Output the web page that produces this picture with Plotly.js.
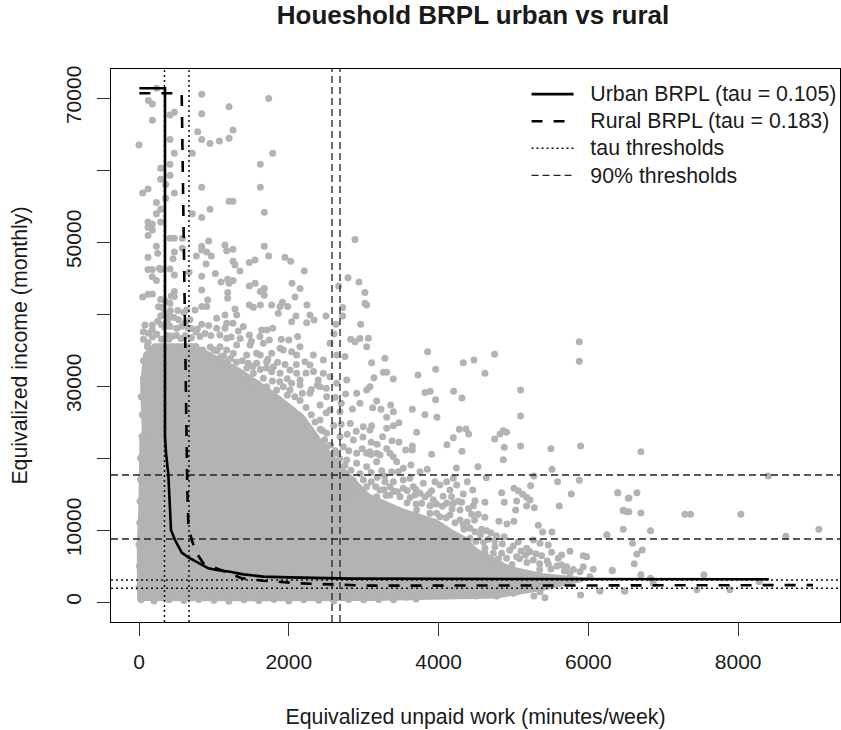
<!DOCTYPE html>
<html><head><meta charset="utf-8">
<script src="https://cdn.plot.ly/plotly-3.0.1.min.js"></script>
<style>html,body{margin:0;padding:0;background:#fff}#c{width:841px;height:730px}</style>
</head><body><div id="c"></div>
<script>
// Household points: [unpaid work, income]
var scatterPoints = [
[236,71350],[125,69640],[178,69180],[178,66910],[414,67650],[472,68020],[837,70520],[837,67830],[1202,68800],[1731,69920],[783,65330],[1255,65560],[1202,64410],[1073,64040],[948,63670],[837,64220],[414,64220],[0,63480],[472,62320],[712,62320],[1785,62320],[1620,60800],[414,60800],[289,60240],[414,59270],[289,58710],[356,57970],[120,57370],[49,56810],[472,56810],[837,57600],[1620,57600],[356,56070],[232,55470],[1202,55660],[1255,55660],[289,54550],[232,53940],[948,54550],[712,53940],[837,53390],[1673,54130],[289,52790],[120,52790],[178,52510],[120,52050],[178,51680],[120,50890],[414,50520],[472,50520],[579,50520],[930,50150],[2884,50330],[1148,49590],[1170,48800],[1255,48990],[1673,49400],[232,49400],[249,48430],[120,47880],[472,48620],[454,47690],[579,49130],[837,49400],[837,48900],[903,48620],[966,48060],[766,48060],[1731,48060],[1949,47880],[2025,47320],[1255,47320],[1282,46810],[1473,47140],[1549,47500],[895,46950],[1349,45980],[2207,45980],[120,46170],[178,46170],[272,46350],[414,46260],[289,46170],[472,45430],[668,45800],[178,45190],[232,44640],[837,45240],[1019,45610],[1095,44450],[1184,44820],[1255,44640],[1202,44270],[2790,45050],[2937,44450],[2666,43900],[3017,42970],[1473,43900],[1549,44270],[2043,44270],[2150,43530],[1620,43110],[1673,43530],[1673,42600],[2083,42370],[1184,42970],[1184,42180],[837,43340],[49,42370],[120,42740],[178,42780],[289,42000],[472,43110],[472,42420],[917,41950],[837,41030],[903,41030],[748,40560],[636,40560],[303,40890],[414,41490],[1473,41260],[1527,40930],[1620,41260],[1771,41260],[1914,41630],[1882,41030],[1985,41030],[2243,41260],[1860,40100],[2719,40890],[2719,39730],[3017,41490],[3040,41260],[1282,40700],[1304,39870],[1148,39870],[1037,39400],[2497,39730],[2283,39870],[2337,39180],[2239,38800],[2096,39730],[2038,38940],[2959,38570],[289,39730],[178,38480],[80,38480],[58,37550],[125,37320],[178,37780],[414,39640],[414,38250],[503,38020],[659,38020],[837,38570],[930,38390],[1037,38020],[1148,38020],[1255,38710],[1170,38710],[1393,38250],[1326,37640],[1473,37090],[1638,37780],[1705,37780],[1785,38020],[2118,36860],[2630,38570],[2603,37230],[2826,36490],[2950,36580],[3062,36630],[1170,36630],[815,36860],[1615,36860],
[1438,34310],[1571,34540],[1771,34540],[1927,35000],[2038,34770],[2105,34310],[2216,33380],[2328,34310],[2461,33610],[2639,34310],[2750,34080],[2550,35930],[2884,36160],[3040,35460],[1304,35700],[1482,35700],[1660,35930],[1883,35230],[2150,35460],[1082,35460],[1170,35000],[1260,34540],[1460,33150],[1571,33150],[1704,33380],[1794,32690],[1771,31990],[1883,31760],[2016,32220],[2105,31760],[2150,30830],[2283,32920],[2461,31760],[2550,31300],[2394,30830],[2417,29910],[2283,28980],[2505,28520],[2639,30370],[2773,30830],[2906,28980],[3040,29450],[2950,27590],[2550,26670],[2684,26440],[2417,27360],[2150,30140],[2038,30370],[1927,29910],[1838,29450],[1704,29910],[1571,30370],[1460,30830],[1527,31760],[1660,31070],[2016,29450],[2417,25280],[2505,23430],[2684,22960],[2862,22500],[2995,24350],[3084,23890],[2906,20650],[3040,20650],[2728,21570],[2505,21570],[2639,20650],[2906,19260],[3040,18800],[2773,19720],[2995,16940],[2817,15090],[3040,16020],
[3854,34770],[3284,33840],[3106,33240],[4330,33240],[4472,33610],[4748,34400],[5879,36160],[5879,33430],[3961,32310],[3262,31900],[3307,31900],[3725,31530],[4619,31760],[3137,31160],[3396,30970],[3084,29910],[3818,29080],[3889,29260],[4201,29260],[5095,29450],[3961,28100],[4312,28330],[3173,27920],[3120,26990],[3231,26760],[3360,27360],[3396,26440],[3649,26760],[3818,26020],[3978,25650],[5095,25830],[3307,25650],[3471,24910],[3396,24490],[3307,24120],[3106,24490],[3707,23570],[4277,23980],[4366,24030],[4401,23330],[4864,23800],[4909,23570],[4820,23330],[4748,22640],[3253,22960],[4197,22820],[4112,21850],[4877,21480],[5095,21670],[5500,21300],[5896,21670],[3378,22410],[3471,22220],[3649,21670],[3560,21110],[3649,21110],[3307,21300],[3351,20650],[3396,20190],[3440,19490],[4312,20930],[3907,20510],[4864,19770],[3173,20650],[3218,20420],[3084,20880],[3173,19490],[3631,19030],[4526,18800],[4237,18610],[5514,18430],[3849,18430],[3752,18100],[3529,18570],[3462,18100],[3373,18100],[3240,18240],[5273,17500],[4637,17270],[5879,16900],[5589,16710],[4383,16710],[5229,16160],[3796,16480],[3618,17180],[3529,16940],[3396,16710],[3284,16710],[3663,16020],[3529,15790],[3351,16020],[3218,15560],[3952,16710],[4018,16250],[4108,16710],[4197,17180],[4241,16250],[3907,15460],[4455,15550],[4152,15550],[4330,15000],[4842,15190],[5006,15790],[5064,15460],[5122,14950],[5176,14540],[5220,14170],[5772,15000],[3752,15090],[3818,14630],[3685,14860],[3485,14630],[3351,14860],[3173,14630],[4174,14630],[4486,14070],[4619,13840],[4308,13840],[4108,13700],[4197,13700],[4877,13840],[5042,14030],[5176,13330],[5278,13100],[5612,13330],[5029,12780],[4464,13380],[4286,12780],[3885,13380],[3774,13700],[4441,12180],[4530,12180],[4619,11760],[3974,12310],[3885,12310],[3707,12780],[4018,11850],[4152,12080],[4286,11390],[4806,11200],[4913,10830],[5006,11200],[5331,10650],[5389,9720],[5514,9720],[4575,10090],[4642,9910],[4419,10230],[4486,9770],[4330,10690],[4775,9170],[4877,9070],[4664,8700],[4419,8840],[5265,8610],[5064,8380],[4998,7780],[5176,7450],[5220,6990],[5354,8150],[5465,7920],[5509,6900],[5754,7040],[5643,6530],[5598,6060],[4619,7450],[4619,6760],[4753,7680],[4731,6760],[4842,6760],[4909,6060],[5042,6300],[5265,5830],[5376,6440],[5465,5280],[5932,6440],[5977,6300],[5932,4910],[6065,4540],[5888,4210],[5710,4910],[5643,5140],[5754,3980],[6021,3520],[5896,970],[5420,600],[5273,830],[5354,1430],[4775,830],[4642,1110],[4499,830],[4250,1340],[4998,1200],[5042,1430],[3885,970],[3574,650],[3440,740],
[6701,20880],[8401,17500],[6394,15180],[6648,15180],[6541,14440],[6466,12730],[6541,12550],[6701,12360],[7289,12180],[7364,12180],[8036,12180],[6466,10090],[6830,9910],[9078,10090],[6247,9300],[8637,9120],[6590,8150],[6719,7220],[6648,6670],[6612,5320],[6319,4400],[6701,3800],[6830,3290],[7542,3800],[6866,2590],[8281,2820],[6154,1530],[6483,1530],[7449,1710],[7890,1710],[6155,1530],[6488,1530],[6390,15190],[6533,14400],[6466,12680],[6511,12550],[6248,9300],[6319,4350],
[30,300],[200,150],[400,300],[600,200],[800,350],[1000,250],[1200,100],[1400,300],[1600,200],[1800,350],[2000,150],[2200,300],[2400,250],[2600,150],[2800,350],[3000,300],[3200,350],[3400,300],[3700,400],[0,2000],[5,5000],[0,8000],[10,11000],[15,14000],[20,17000],[20,20000],[40,23000],[45,26000],[30,28500],[60,31000],[60,33500],[110,35500],
[60,36500],[120,36000],[180,36800],[240,37200],[300,36500],[340,38200],[380,37000],[440,36900],[500,37000],[560,36600],[620,37000],[700,36700],[760,37500],[300,38500],[250,39000],[340,40000],[380,39000],[420,40500],[470,39500],[530,39200],[570,38300],[620,38800],[680,39200],[260,41000],[350,41800],[430,42500],[400,36500],[520,40500],[600,40200],[700,38000],[780,37900],[880,37300],[960,37000],[1080,37100],[1230,36800],[1350,36600],[1500,36200],[1740,36400],[1900,36500],[2000,36400],
[760,35500],[850,35000],[950,35400],[1040,34900],[1130,34200],[1220,33800],[1300,33300],[1380,33500],[1180,33400],[1090,34000],[1000,35000],[1440,32500],[1520,32700],[1620,32300],[1700,32500],[1850,33300],[1950,33000],[2100,33000],[1620,34300],[1720,33700],[2230,31800],[2330,32000],[2380,30100],[2300,29500],[2180,29000],[2080,28500],[1980,28700],[1780,30700],[1880,30600],[1980,31000],[2500,29700],[2620,28400],[2760,28900],[2700,27600],[2850,26800],[2500,26300],[2600,24500],[2700,24700],[2820,24800],[2900,23700],[2450,23800],[2780,23300],[2990,22900],[3100,22200],[3180,21900],[2800,21000],[2980,21300],[3100,20500],[2830,18300],[2950,17800],[3100,18000],[3180,17300],[3280,17500],[2860,16900],[3100,16700],[3160,16000],[3270,15600],[3300,14800],[3400,15400],[3450,15300],[3580,15500],[3620,14500],[3700,15600],[3870,15000],[3930,14200],[3970,13600],[4050,13300],[3700,13600],[3580,13800],[4060,14700],[4260,14000],[4400,13000],[4180,12900],[4100,11700],[4220,11000],[4380,11100],[4340,10100],[4480,11400],[4560,9300],[4700,9600],[4500,8400],[4600,8300],[4750,8500],[4850,8100],[4950,7200],[5100,7100],[5160,6500],[5300,6700],[5080,6000],[5180,5500],[5350,5300],[5450,5700],[5580,5000],[5680,4300],[5800,4500],[5500,4600],[5350,4500],[4980,5200],[4800,6000],[4700,5800],
[2150,28000],[2230,27000],[2300,26000],[2350,25000],[2420,24000],[2480,22500],[2560,21800],[2620,21000],[2680,19900],[2750,19000]
];

// Outline of the area so densely covered that the points merge into one mass
var denseX = [-25,-30,-9,5,36,14,58,192,725,993,1349,1838,2200,2550,2728,3084,3529,3974,4196,4375,4508,4953,5398,6110,5443,4775,3974,3084,1500,-25];
var denseY = [150,7680,13240,22500,23890,30370,34540,35930,35930,34500,32500,29000,26000,21000,18800,15000,13000,11500,10000,9000,7500,5000,3980,3280,1670,500,300,150,100,150];

var urbanX = [5,347,347,361,392,414,427,481,570,659,837,926,1037,1215,1393,1660,2016,2817,5000,8410];
var urbanY = [71350,71350,22960,20650,17640,13700,10000,8610,6850,6200,5140,4670,4440,4210,3840,3520,3420,3240,3200,3150];
var ruralX = [5,436,570,570,583,614,628,645,659,703,770,859,1260,1371,1660,1905,2150,2550,3084,6000,9000];
var ruralY = [70650,70650,70650,70650,60930,36390,24800,15550,10920,8610,6760,5370,3750,3290,2960,2730,2590,2450,2270,2300,2350];

var tauV = [340,667], tauH = [3050,1900];
var p90V = [2577,2684], p90H = [17640,8750];
var xRange = [-374,9360], yRange = [-2778,74028];
var xTicks = [0,2000,4000,6000,8000];
var yTicks = [0,10000,20000,30000,40000,50000,60000,70000];
var yLabels = ['0','10000','','30000','','50000','','70000'];
var legendNames = ['Urban BRPL (tau = 0.105)','Rural BRPL (tau = 0.183)','tau thresholds','90% thresholds'];

var FONT = 'Liberation Sans, Arial, sans-serif', GREY = '#b3b3b3', INK = '#1a1a1a';
var DOT = '2px,3px', DASH = '7px,4px';

// Legend rows take their height from legend.font.size; the label itself is set a little larger
function legendLabel(s){ return '<span style="font-size:21.3px">\u00a0\u00a0' + s + '</span>'; }
function guide(x, y, dash, color, width) {
  return {type:'scatter', mode:'lines', x:x, y:y, showlegend:false, hoverinfo:'skip',
          line:{color:color, width:width, dash:dash}};
}
var traces = [
  {type:'scatter', mode:'lines', x:denseX, y:denseY, fill:'toself', fillcolor:GREY,
   line:{width:0, color:GREY}, showlegend:false, hoverinfo:'skip'},
  {type:'scatter', mode:'markers', x:scatterPoints.map(function(p){return p[0]}),
   y:scatterPoints.map(function(p){return p[1]}), marker:{size:7, color:GREY},
   showlegend:false, hoverinfo:'skip'}
];
tauV.forEach(function(v){traces.push(guide([v,v],yRange,DOT,'#111',1.5))});
tauH.forEach(function(v){traces.push(guide(xRange,[v,v],DOT,'#111',1.5))});
p90V.forEach(function(v){traces.push(guide([v,v],yRange,DASH,'#222',1.3))});
p90H.forEach(function(v){traces.push(guide(xRange,[v,v],DASH,'#222',1.3))});
traces.push({type:'scatter',mode:'lines',x:urbanX,y:urbanY,name:legendLabel(legendNames[0]),legendgroup:'a',line:{color:'#000',width:2.6}});
traces.push({type:'scatter',mode:'lines',x:ruralX,y:ruralY,name:legendLabel(legendNames[1]),legendgroup:'b',line:{color:'#000',width:2.6,dash:'11px,11px'}});
// Legend-only entries: the drawn lines above carry the same style
traces.push({type:'scatter',mode:'lines',x:[null],y:[null],name:legendLabel(legendNames[2]),legendgroup:'c',line:{color:'#111',width:1.5,dash:DOT}});
traces.push({type:'scatter',mode:'lines',x:[null],y:[null],name:legendLabel(legendNames[3]),legendgroup:'d',line:{color:'#222',width:1.3,dash:DASH}});

var axisBase = {showgrid:false, zeroline:false, showline:true, mirror:true, linecolor:'#000', linewidth:1,
  ticks:'outside', ticklen:13, tickcolor:'#333', tickwidth:1, ticklabelstandoff:8, tickfont:{family:FONT,size:21,color:INK}};

var layout = {
  width:841, height:730, paper_bgcolor:'#fff', plot_bgcolor:'#fff', hovermode:false,
  margin:{l:111,r:1,t:69,b:108,autoexpand:false}, font:{family:FONT,color:INK},
  title:{text:'<b>Houeshold BRPL urban vs rural</b>', font:{family:FONT,size:26,color:INK},
         x:473/841, xanchor:'center', y:0.98, yanchor:'middle'},
  xaxis:Object.assign({}, axisBase, {range:xRange, tickmode:'array', tickvals:xTicks,
    title:{text:'Equivalized unpaid work (minutes/week)', font:{family:FONT,size:21.3,color:INK}, standoff:36}}),
  yaxis:Object.assign({}, axisBase, {range:yRange, tickmode:'array', tickvals:yTicks, ticktext:yLabels, tickangle:-90,
    title:{text:'Equivalized income (monthly)', font:{family:FONT,size:21.3,color:INK}, standoff:28}}),
  legend:{x:0.57, y:0.988, xanchor:'left', yanchor:'top', bgcolor:'rgba(0,0,0,0)', borderwidth:0,
    font:{family:FONT,size:18.5,color:INK}, itemwidth:42, traceorder:'grouped', tracegroupgap:0, itemclick:false}
};
Plotly.newPlot('c', traces, layout, {staticPlot:true, displayModeBar:false});
</script></body></html>
